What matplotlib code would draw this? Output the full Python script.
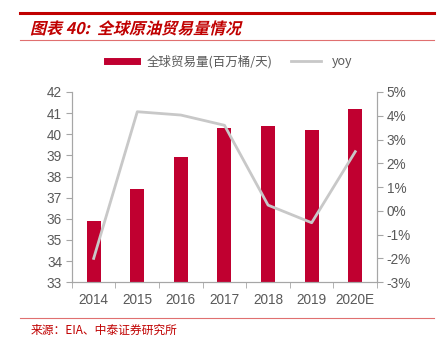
import matplotlib
matplotlib.use('Agg')
import matplotlib.pyplot as plt
from matplotlib.lines import Line2D
from matplotlib.textpath import TextPath
from matplotlib.patches import PathPatch
from matplotlib.font_manager import FontProperties
from matplotlib.transforms import Affine2D

years = ['2014', '2015', '2016', '2017', '2018', '2019', '2020E']
volume = [35.9, 37.4, 38.9, 40.3, 40.4, 40.2, 41.2]
yoy = [-2.0, 4.17, 4.03, 3.6, 0.24, -0.5, 2.49]

red = '#C00030'
grey_line = '#C8C8C8'
txt = '#595959'
spine = '#A6A6A6'

plt.rcParams['font.family'] = ['Liberation Sans', 'Noto Sans CJK SC', 'DejaVu Sans']

fig = plt.figure(figsize=(4.41, 3.42), dpi=100)
ax = fig.add_axes([0.163, 0.175, 0.692, 0.556])
ax2 = ax.twinx()

x = list(range(len(years)))
ax.bar(x, volume, width=0.32, color=red, zorder=2)
ax.set_ylim(33, 42)
ax.set_yticks(range(33, 43))
ax.set_xlim(-0.5, len(years) - 0.5)
ax.set_xticks(x)
ax.set_xticklabels(years)
ax.set_xticks([i - 0.5 for i in range(len(years) + 1)], minor=True)
ax.tick_params(axis='x', which='major', length=0, pad=8, labelsize=9.8, labelcolor=txt)
ax.tick_params(axis='x', which='minor', length=4, color=spine, direction='out')
ax.tick_params(axis='y', length=4, color=spine, labelsize=9.8, labelcolor=txt, pad=3)

ax2.plot(x, yoy, color=grey_line, lw=2, zorder=3)
ax2.set_ylim(-3, 5)
ax2.set_yticks(range(-3, 6))
ax2.set_yticklabels([f'{v}%' for v in range(-3, 6)])
ax2.tick_params(axis='y', length=4, color=spine, labelsize=9.8, labelcolor=txt, pad=3)

for a in (ax, ax2):
    a.spines['top'].set_visible(False)
    for s in ('left', 'right', 'bottom'):
        a.spines[s].set_color(spine)
ax.set_zorder(ax2.get_zorder() - 1)
ax2.patch.set_visible(False)

handles = [Line2D([0], [0], color=red, lw=5),
           Line2D([0], [0], color=grey_line, lw=2)]
fig.legend(handles, ['全球贸易量(百万桶/天)', 'yoy'], loc='center',
           bbox_to_anchor=(0.52, 0.82), ncol=2, frameon=False,
           labelcolor=txt, handlelength=2.4, columnspacing=1.5,
           prop={'family': ['Noto Sans CJK SC', 'DejaVu Sans'], 'size': 9})

# header: slanted bold red title
fig.add_artist(Line2D([0.045, 0.985], [0.962, 0.962], color='#C00000', lw=2.2))
fig.add_artist(Line2D([0.045, 0.985], [0.883, 0.883], color='#E07070', lw=0.8))
title_path = TextPath((0, 0), '图表 40:  全球原油贸易量情况', size=16,
                      prop=FontProperties(family='Noto Sans CJK SC', weight='bold'))
title_tf = Affine2D().skew_deg(14, 0).scale(1 / 100).translate(30 / 100, (342 - 34) / 100)
fig.add_artist(PathPatch(title_path, color='#C00000', lw=0,
                         transform=title_tf + fig.dpi_scale_trans))

fig.add_artist(Line2D([0.045, 0.985], [0.07, 0.07], color='#E07070', lw=0.8))
fig.text(0.07, 0.035, '来源：EIA、中泰证券研究所', color='#C00000', fontsize=8.5,
         va='center', family=['Noto Sans CJK SC', 'DejaVu Sans'])

fig.savefig('out.png', dpi=100)
